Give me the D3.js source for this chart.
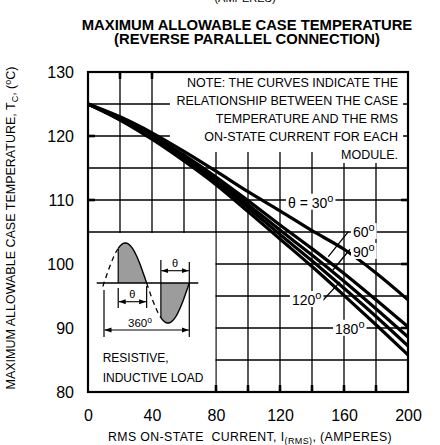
<!DOCTYPE html>
<html><head><meta charset="utf-8">
<script src="https://cdn.jsdelivr.net/npm/d3@7"></script>
<style>body{margin:0;background:#fff}svg{display:block}text{font-family:"Liberation Sans",Arial,Helvetica,sans-serif;fill:#000}</style>
</head><body><svg id="c" width="440" height="445"></svg>
<script>
// ---- data ----
const current = [0,20,40,60,80,100,120,140,160,180,200];
const temp30  = [125,123.0,120.5,117.6,114.5,111.3,108.3,105.2,102.3,98.6,94.4];
const temp60  = [125,122.8,120.1,117.0,113.6,109.9,106.1,102.4,98.5,94.4,90.2];
const temp90  = [125,122.7,119.9,116.7,113.2,109.3,105.3,101.4,97.3,93.0,88.6];
const temp120 = [125,122.6,119.7,116.4,112.8,108.8,104.6,100.5,96.2,91.8,87.2];
const temp180 = [125,122.5,119.5,116.1,112.4,108.2,103.9,99.6,95.1,90.5,85.8];
const seriesTemps = [temp30,temp60,temp90,temp120,temp180];
const angleLabels = ["30","60","90","120","180"];
const xTickValues = [0,40,80,120,160,200];
const yTickValues = [80,90,100,110,120,130];
const xGridValues = [20,40,60,80,100,120,140,160,180];
const yGridValues = [85,90,95,100,105,110,115,120,125];
const noteLines = ["NOTE: THE CURVES INDICATE THE","RELATIONSHIP BETWEEN THE CASE","TEMPERATURE AND THE RMS","ON-STATE CURRENT FOR EACH","MODULE."];

const svg = d3.select("#c");
const x = d3.scaleLinear().domain([0,200]).range([88,408]);
const y = d3.scaleLinear().domain([80,130]).range([392,72]);

// cut-off text at very top (continuation of the figure above)
svg.append("text").attr("x",245).attr("y",2).attr("text-anchor","middle").attr("font-size",11).text("(AMPERES)");

// title
svg.append("text").attr("x",247).attr("y",29.5).attr("text-anchor","middle").attr("font-size",14.8).attr("font-weight","bold").text("MAXIMUM ALLOWABLE CASE TEMPERATURE");
svg.append("text").attr("x",247).attr("y",43.5).attr("text-anchor","middle").attr("font-size",14.8).attr("font-weight","bold").text("(REVERSE PARALLEL CONNECTION)");

// grid
const g = svg.append("g");
g.selectAll(".vg").data(xGridValues).join("line")
  .attr("x1",d=>x(d)).attr("x2",d=>x(d)).attr("y1",y(130)).attr("y2",y(80))
  .attr("stroke","#000").attr("stroke-width",1.3);
g.selectAll(".hg").data(yGridValues).join("line")
  .attr("y1",d=>y(d)).attr("y2",d=>y(d)).attr("x1",x(0)).attr("x2",x(200))
  .attr("stroke","#000").attr("stroke-width",1.3);

// masks (note box and inset box)
svg.append("rect").attr("x",170).attr("y",73).attr("width",233).attr("height",79).attr("fill","#fff");
svg.append("rect").attr("x",330).attr("y",150).attr("width",73).attr("height",13).attr("fill","#fff");
svg.append("rect").attr("x",89).attr("y",y(105)+1).attr("width",x(80)-89-0.7).attr("height",y(80)-y(105)-2).attr("fill","#fff");

// label positions (data space)
const labelPos = [
  {I:125.0,T:108.8,txt:"\u03b8 = 30"},
  {I:165.6,T:104.2,txt:"60"},
  {I:165.6,T:101.1,txt:"90"},
  {I:127.5,T:93.6,txt:"120"},
  {I:154.4,T:89.1,txt:"180"}
];
const leaders = [
  [[162.7,105.05],[150.2,101.14]],
  [[163.75,102.3],[153.1,99.06]],
  [[146,94.1],[157.5,97.2]]
];

const labG = svg.append("g");
const labTexts = labG.selectAll("text").data(labelPos).join("text")
  .attr("x",d=>x(d.I)).attr("y",d=>y(d.T)).attr("font-size",14);
labTexts.append("tspan").text(d=>d.txt);
labTexts.append("tspan").attr("dy",-6).attr("font-size",11).text("o");
labTexts.each(function(){
  const b=this.getBBox();
  labG.insert("rect","text").attr("x",b.x-2).attr("y",b.y+2).attr("width",b.width+4).attr("height",b.height-3).attr("fill","#fff");
});

// curves
const line = d3.line().x((d,i)=>x(current[i])).y(d=>y(d)).curve(d3.curveMonotoneX);
const cg = svg.append("g");
seriesTemps.forEach((s,k)=>{
  cg.append("path").datum(s).attr("d",line).attr("fill","none").attr("stroke","#000").attr("stroke-width",3.2);
});
// leaders
svg.selectAll(".ld").data(leaders).join("line")
  .attr("x1",d=>x(d[0][0])).attr("y1",d=>y(d[0][1])).attr("x2",d=>x(d[1][0])).attr("y2",d=>y(d[1][1]))
  .attr("stroke","#000").attr("stroke-width",1.3);
labG.raise();

// frame
svg.append("rect").attr("x",x(0)).attr("y",y(130)).attr("width",x(200)-x(0)).attr("height",y(80)-y(130))
  .attr("fill","none").attr("stroke","#000").attr("stroke-width",2.2);
// inward thick ticks (only where grid lines meet the frame)
const tk = svg.append("g").attr("stroke","#000").attr("stroke-width",2.6);
[20,40].forEach(v=>tk.append("line").attr("x1",x(v)).attr("x2",x(v)).attr("y1",y(130)).attr("y2",y(130)+7));
[80,100,120,140,160,180].forEach(v=>tk.append("line").attr("x1",x(v)).attr("x2",x(v)).attr("y1",y(80)).attr("y2",y(80)-7));
[110,120].forEach(v=>tk.append("line").attr("y1",y(v)).attr("y2",y(v)).attr("x1",x(0)).attr("x2",x(0)+7));
[90,100,110].forEach(v=>tk.append("line").attr("y1",y(v)).attr("y2",y(v)).attr("x1",x(200)).attr("x2",x(200)-7));

// axes tick labels via d3 axes
const xAxis = d3.axisBottom(x).tickValues(xTickValues).tickSize(0).tickPadding(0);
const xa = svg.append("g").attr("transform",`translate(0,${y(80)})`).call(xAxis);
xa.select(".domain").remove();
xa.selectAll("text").attr("font-size",16).attr("font-family",null).attr("dy",null).attr("y",28.5);
const yAxis = d3.axisLeft(y).tickValues(yTickValues).tickSize(0).tickPadding(14);
const ya = svg.append("g").attr("transform",`translate(${x(0)},0)`).call(yAxis);
ya.select(".domain").remove();
ya.selectAll("text").attr("font-size",16).attr("font-family",null).attr("dy","0.36em");

// axis titles
const xt = svg.append("text").attr("x",250).attr("y",441).attr("text-anchor","middle").attr("font-size",12.3).attr("letter-spacing",0.4);
xt.append("tspan").text("RMS ON-STATE\u00a0 CURRENT, I");
xt.append("tspan").attr("dy",3).attr("font-size",9).text("(RMS)");
xt.append("tspan").attr("dy",-3).text(", (AMPERES)");
const yt = svg.append("text").attr("transform","translate(15,228) rotate(-90)").attr("text-anchor","middle").attr("font-size",12.5);
yt.append("tspan").text("MAXIMUM ALLOWABLE CASE TEMPERATURE, T");
yt.append("tspan").attr("dy",3).attr("font-size",9).text("C");
yt.append("tspan").attr("dy",-3).text(", (");
yt.append("tspan").attr("dy",-4).attr("font-size",9).text("o");
yt.append("tspan").attr("dy",4).text("C)");

// note text
svg.selectAll(".note").data(noteLines).join("text")
  .attr("x",398).attr("y",(d,i)=>86.5+i*18).attr("text-anchor","end").attr("font-size",12.5).text(d=>d);

// ---- inset waveform icon ----
const ins = svg.append("g");
const x0=104, P=85.3, y0=283, A=40;
const px = ph=>x0+ph/360*P, py = ph=>y0-A*Math.sin(ph*Math.PI/180);
const ph = (a,b)=>d3.range(a,b+0.001,3);
const wl = d3.line().x(d=>px(d)).y(d=>py(d));
const posPts = ph(60,180);
ins.append("path").attr("d", `M${px(60)},${y0}` + wl(posPts).replace("M","L") + "Z").attr("fill","#9c9c9c").attr("stroke","none");
const negPts = ph(240,360);
ins.append("path").attr("d", `M${px(240)},${y0}` + wl(negPts).replace("M","L") + "Z").attr("fill","#9c9c9c").attr("stroke","none");
ins.append("line").attr("x1",96.7).attr("x2",198.3).attr("y1",y0).attr("y2",y0).attr("stroke","#000").attr("stroke-width",1.4);
ins.append("path").attr("d",wl(posPts)).attr("fill","none").attr("stroke","#000").attr("stroke-width",1.4);
ins.append("path").attr("d",wl(negPts)).attr("fill","none").attr("stroke","#000").attr("stroke-width",1.4);
ins.append("path").attr("d",wl(ph(-5,60))).attr("fill","none").attr("stroke","#000").attr("stroke-width",1.3).attr("stroke-dasharray","5,4");
ins.append("path").attr("d",wl(ph(180,240))).attr("fill","none").attr("stroke","#000").attr("stroke-width",1.3).attr("stroke-dasharray","5,4");
const vl=(xx,a,b)=>ins.append("line").attr("x1",xx).attr("x2",xx).attr("y1",a).attr("y2",b).attr("stroke","#000").attr("stroke-width",1.2);
vl(px(60),py(60),y0);
vl(px(240),260,py(240));
vl(px(0),290,337);
vl(px(360),262,337);
vl(px(60),288,308);
vl(px(180),286,308);
const defs = svg.append("defs");
defs.append("marker").attr("id","ah").attr("viewBox","0 0 10 10").attr("refX",10).attr("refY",5)
  .attr("markerWidth",7).attr("markerHeight",7).attr("orient","auto-start-reverse").attr("markerUnits","userSpaceOnUse")
  .append("path").attr("d","M0,1.5L10,5L0,8.5Z").attr("fill","#000");
const arr=(a,b,yy)=>ins.append("line").attr("x1",a+0.5).attr("x2",b-0.5).attr("y1",yy).attr("y2",yy).attr("stroke","#000").attr("stroke-width",1.1)
  .attr("marker-start","url(#ah)").attr("marker-end","url(#ah)");
arr(px(240),px(360),270.7);
arr(px(60),px(180),301.7);
arr(px(0),px(360),330);
ins.append("text").attr("x",(px(240)+px(360))/2).attr("y",267).attr("text-anchor","middle").attr("font-size",11).attr("font-family","'Liberation Serif',serif").text("\u03b8");
ins.append("text").attr("x",(px(60)+px(180))/2).attr("y",298).attr("text-anchor","middle").attr("font-size",11).attr("font-family","'Liberation Serif',serif").text("\u03b8");
const t360 = ins.append("text").attr("x",140).attr("y",327).attr("text-anchor","middle").attr("font-size",11.5);
t360.append("tspan").text("360");
t360.append("tspan").attr("dy",-4).attr("font-size",8.5).text("o");
ins.append("text").attr("x",102.7).attr("y",362).attr("font-size",12).text("RESISTIVE,");
ins.append("text").attr("x",102.7).attr("y",382).attr("font-size",12).text("INDUCTIVE LOAD");
</script></body></html>
